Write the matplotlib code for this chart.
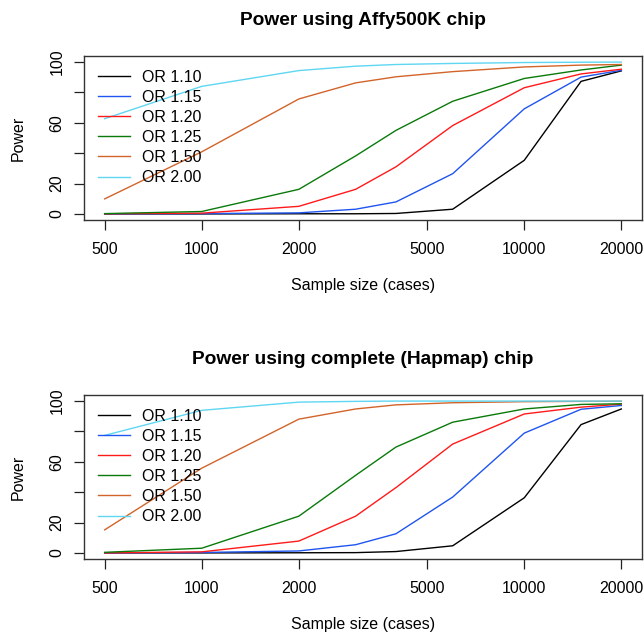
import matplotlib
matplotlib.use("Agg")
import matplotlib.pyplot as plt
from matplotlib.ticker import FixedLocator, NullLocator, FixedFormatter
import numpy as np

plt.rcParams['font.family'] = ['Liberation Sans', 'DejaVu Sans']

sample_sizes = [500, 1000, 2000, 3000, 4000, 6000, 10000, 15000, 20000]
or_labels = ["OR 1.10", "OR 1.15", "OR 1.20", "OR 1.25", "OR 1.50", "OR 2.00"]
colors = ["#000000", "#1f55f0", "#ff1a1a", "#0a7a0a", "#d2642a", "#5fd6f2"]

# Power (%) using Affy500K chip
affy_power = [
    [0.0, 0.0, 0.1, 0.1, 0.3, 3.1, 35.3, 87.3, 94.2],   # OR 1.10
    [0.0, 0.2, 0.7, 3.1, 7.9, 26.5, 69.2, 90.1, 94.6],  # OR 1.15
    [0.1, 0.5, 5.0, 16.2, 31.0, 58.2, 83.1, 92.2, 95.3],  # OR 1.20
    [0.2, 1.6, 16.2, 38.2, 55.0, 74.2, 89.2, 94.8, 98.0],  # OR 1.25
    [9.9, 40.9, 75.7, 86.3, 90.3, 93.7, 96.8, 98.0, 98.4],  # OR 1.50
    [62.7, 84.0, 94.4, 97.3, 98.4, 99.1, 99.7, 99.9, 100.0],  # OR 2.00
]

# Power (%) using complete (Hapmap) chip
hapmap_power = [
    [0.0, 0.0, 0.1, 0.2, 0.9, 4.7, 36.3, 84.5, 94.8],   # OR 1.10
    [0.0, 0.3, 1.3, 5.4, 12.6, 36.8, 78.9, 94.6, 97.1],  # OR 1.15
    [0.0, 0.7, 7.8, 24.2, 43.0, 71.7, 91.5, 96.0, 98.0],  # OR 1.20
    [0.4, 3.1, 24.2, 51.1, 69.7, 86.1, 94.8, 97.8, 98.2],  # OR 1.25
    [15.2, 55.8, 88.1, 94.8, 97.5, 98.9, 99.6, 99.8, 99.9],  # OR 1.50
    [77.4, 93.9, 99.3, 99.8, 100.0, 100.0, 100.0, 100.0, 100.0],  # OR 2.00
]

titles = ["Power using Affy500K chip", "Power using complete (Hapmap) chip"]
xticks = [500, 1000, 2000, 5000, 10000, 20000]
yticks = [0, 20, 40, 60, 80, 100]
ytick_labels = ["0", "20", "", "60", "", "100"]

W, H = 644, 633
fig = plt.figure(figsize=(W / 100, H / 100), dpi=100)

left = 84 / W
width = (642 - 84) / W
panels = [(56, 220), (395, 559)]  # top, bottom in pixels

lx0, lx1 = np.log10(500), np.log10(20000)
ext = 0.04 * (lx1 - lx0)
xlim = (10 ** (lx0 - ext), 10 ** (lx1 + ext))

for (ptop, pbot), title, data in zip(panels, titles, [affy_power, hapmap_power]):
    ax = fig.add_axes([left, 1 - pbot / H, width, (pbot - ptop) / H])
    for vals, lab, c in zip(data, or_labels, colors):
        ax.plot(sample_sizes, vals, color=c, lw=1.0, label=lab)
    ax.set_xscale("log")
    ax.set_xlim(*xlim)
    ax.set_ylim(-4, 104)
    ax.xaxis.set_major_locator(FixedLocator(xticks))
    ax.xaxis.set_major_formatter(FixedFormatter([str(t) for t in xticks]))
    ax.xaxis.set_minor_locator(NullLocator())
    ax.yaxis.set_major_locator(FixedLocator(yticks))
    ax.yaxis.set_major_formatter(FixedFormatter(ytick_labels))
    ax.tick_params(axis="both", direction="out", length=7, width=0.9,
                   labelsize=11.5, color="#222222")
    ax.tick_params(axis="x", pad=9)
    ax.tick_params(axis="y", pad=7)
    for lbl in ax.get_yticklabels():
        lbl.set_rotation(90)
        lbl.set_va("center")
    for s in ax.spines.values():
        s.set_linewidth(1.0)
        s.set_color("#333333")
    ax.set_title(title, fontsize=13.8, fontweight="bold", pad=22)
    ax.set_xlabel("Sample size (cases)", fontsize=11.5, labelpad=15)
    ax.set_ylabel("Power", fontsize=11.5, labelpad=17)
    ax.legend(loc="upper left", frameon=False, fontsize=11.5, handlelength=2.0,
              handletextpad=0.8, labelspacing=0.32, borderaxespad=0.45,
              borderpad=0.4, bbox_to_anchor=(0.0, 1.0))

fig.savefig("out.png", dpi=100)
